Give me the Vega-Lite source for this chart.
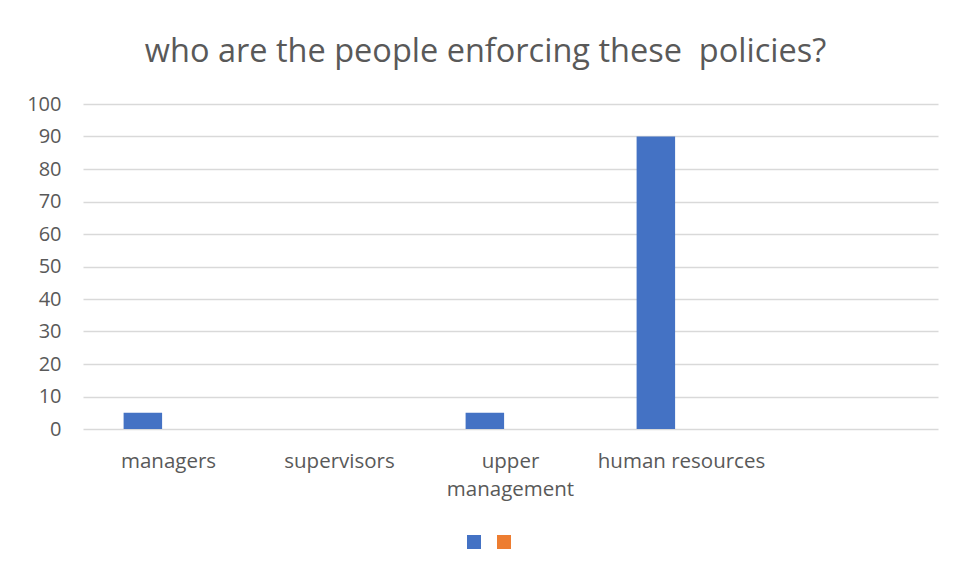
{
  "$schema": "https://vega.github.io/schema/vega-lite/v6.json",
  "width": 855,
  "height": 325,
  "autosize": {"type": "none"},
  "padding": {"left": 83, "top": 104, "right": 16, "bottom": 148},
  "background": "white",
  "title": {
    "text": "who are the people enforcing these \u00a0policies?",
    "font": "Open Sans",
    "fontSize": 32.5,
    "fontWeight": "normal",
    "color": "#595959",
    "anchor": "middle",
    "frame": "group",
    "baseline": "alphabetic",
    "offset": 0,
    "dx": -25
  },
  "data": {
    "values": [
      {"category": "managers", "series": "Series1", "value": 5},
      {"category": "supervisors", "series": "Series1", "value": 0},
      {"category": "upper management", "series": "Series1", "value": 5},
      {"category": "human resources", "series": "Series1", "value": 90}
    ]
  },
  "mark": {"type": "bar", "width": 38.5},
  "encoding": {
    "x": {
      "field": "category",
      "type": "nominal",
      "sort": null,
      "scale": {
        "domain": ["managers", "supervisors", "upper management", "human resources", " "],
        "paddingInner": 0,
        "paddingOuter": 0
      },
      "axis": {
        "title": null,
        "domain": false,
        "ticks": false,
        "grid": false,
        "labelAngle": 0,
        "labelFont": "Open Sans",
        "labelFontSize": 20.5,
        "labelColor": "#595959",
        "labelPadding": 22,
        "labelLineHeight": 28,
        "labelExpr": "datum.value == 'upper management' ? ['upper', 'management'] : datum.value"
      }
    },
    "xOffset": {
      "field": "series",
      "type": "nominal",
      "scale": {
        "domain": ["Series1", "Series2"],
        "paddingInner": 0,
        "paddingOuter": 1.192,
        "align": 0.45
      }
    },
    "y": {
      "field": "value",
      "type": "quantitative",
      "scale": {"domain": [0, 100], "nice": false},
      "axis": {
        "title": null,
        "domain": false,
        "ticks": false,
        "values": [0, 10, 20, 30, 40, 50, 60, 70, 80, 90, 100],
        "labelFont": "Open Sans",
        "labelFontSize": 20,
        "labelColor": "#595959",
        "labelPadding": 22,
        "gridColor": "#d9d9d9",
        "gridWidth": 1.3
      }
    },
    "color": {
      "field": "series",
      "type": "nominal",
      "scale": {"domain": ["Series1", "Series2"], "range": ["#4472C4", "#ED7D31"]},
      "legend": {
        "orient": "none",
        "legendX": 384,
        "legendY": 431,
        "direction": "horizontal",
        "title": null,
        "symbolType": "square",
        "symbolSize": 196,
        "symbolStrokeWidth": 0,
        "symbolOpacity": 1,
        "labelExpr": "''",
        "labelOffset": 0,
        "columnPadding": 16,
        "padding": 0
      }
    }
  },
  "config": {
    "view": {"stroke": null}
  }
}
